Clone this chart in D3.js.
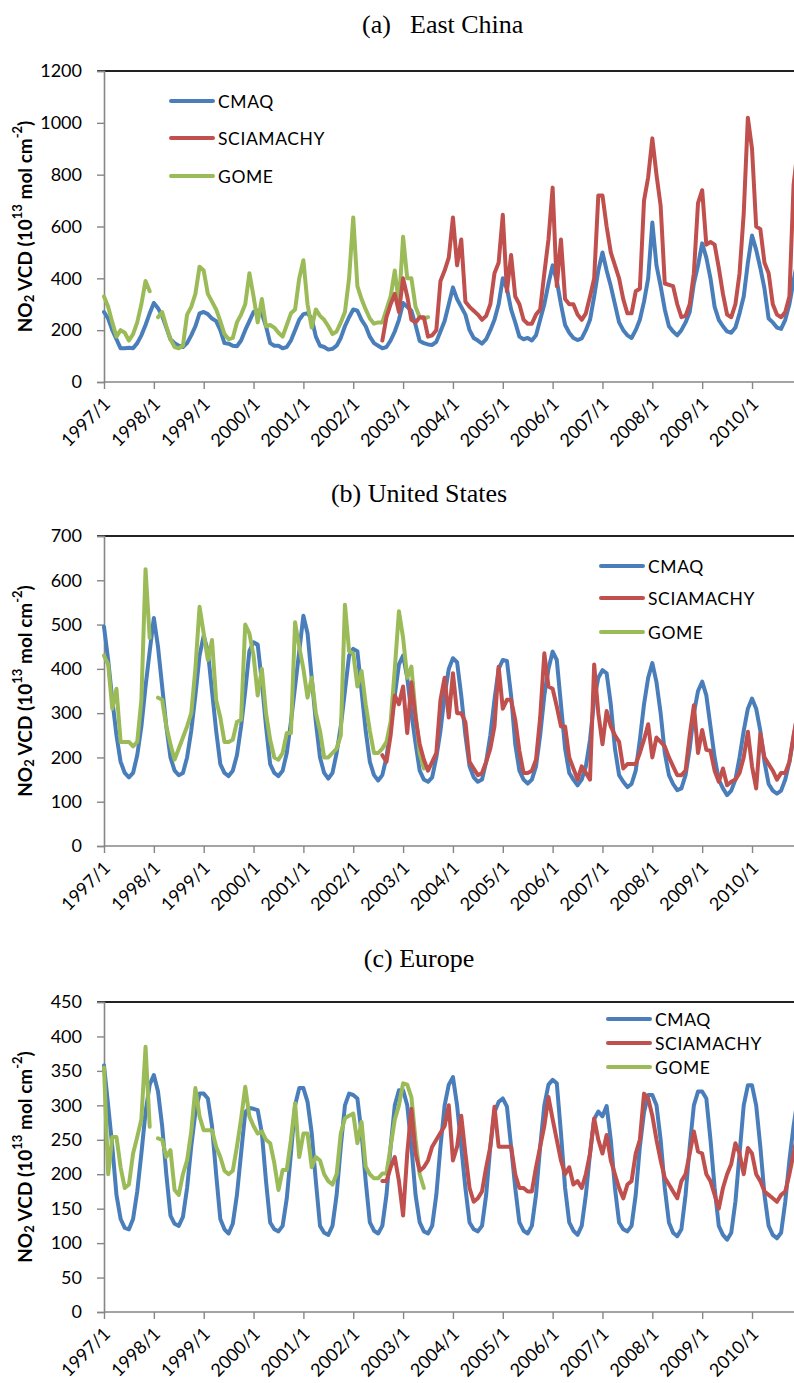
<!DOCTYPE html>
<html>
<head>
<meta charset="utf-8">
<script src="https://cdn.jsdelivr.net/npm/d3@7/dist/d3.min.js"></script>
<style>
  body { margin: 0; background: #fff; }
  svg { display: block; }
</style>
</head>
<body>
<svg id="chart" width="794" height="1383"></svg>
<script>
// monthly series, first value = 1997/1 unless noted
var years = d3.range(1997, 2011);
var sciaStart = 67;   // SCIAMACHY begins 2002/8
var seriesNames = ["CMAQ", "SCIAMACHY", "GOME"];

// (a) East China
var eastCmaq = [
  270, 245, 200, 165, 130, 130, 132, 130, 150, 180, 220, 265,
  305, 285, 255, 210, 165, 150, 140, 135, 150, 180, 215, 265,
  270, 262, 245, 235, 200, 150, 148, 140, 138, 160, 200, 235,
  270, 275, 265, 215, 150, 140, 140, 130, 135, 160, 200, 240,
  262, 265, 245, 175, 140, 135, 125, 128, 140, 170, 215, 250,
  280, 275, 240, 215, 175, 150, 140, 130, 135, 160, 195, 240,
  305, 290, 275, 220, 158, 150, 145, 143, 155, 195, 235, 300,
  365, 320, 290, 260, 200, 170, 160, 148, 165, 200, 240, 300,
  400, 360, 280, 230, 175, 165, 170, 160, 180, 240, 300, 380,
  450, 390, 300, 220, 190, 170, 162, 168, 200, 240, 330, 430,
  500, 430, 370, 300, 230, 200, 180, 170, 200, 240, 310, 400,
  615, 450, 370, 280, 215, 195, 180, 200, 230, 270, 380, 450,
  535, 480, 400, 290, 240, 215, 195, 190, 210, 265, 330, 460,
  565, 510, 440, 360, 245, 230, 210, 205, 240, 300, 390, 470
];
var eastScia = [
  160, 250, 300, 340, 270,
  400, 330, 240, 230, 250, 250, 175, 180, 200, 390, 430, 480,
  635, 450, 550, 310, 290, 275, 260, 240, 255, 300, 420, 460,
  645, 350, 490, 330, 300, 240, 225, 225, 260, 280, 420, 550,
  750, 370, 550, 320, 300, 300, 260, 240, 265, 330, 400, 720,
  720, 600, 500, 450, 400, 320, 265, 265, 350, 360, 700, 790,
  940, 800, 680, 380, 375, 370, 300, 250, 255, 300, 420, 690,
  740, 530, 540, 530, 440, 340, 260, 250, 300, 420, 650, 1020,
  900, 600, 590, 460, 420, 300, 260, 250, 270, 330, 760, 900
];
var eastGome = [
  330, 290, 230, 175, 200, 190, 160, 185, 230, 300, 390, 350,
  null, 250, 270, 215, 165, 135, 130, 140, 260, 290, 340, 445,
  430, 340, 310, 280, 235, 185, 165, 170, 230, 260, 300, 420,
  330, 230, 320, 215, 220, 210, 190, 175, 220, 265, 280, 400,
  470, 300, 210, 280, 255, 240, 215, 185, 195, 230, 270, 400,
  635, 370, 320, 280, 245, 225, 230, 230, 280, 330, 430, 300,
  560, 400, 400, 290, 250, 245, 250
];

// (b) United States
var usCmaq = [
  495, 420, 330, 250, 190, 165, 155, 165, 205, 270, 360, 440,
  515, 450, 360, 270, 200, 170, 160, 165, 200, 260, 340, 430,
  475, 440, 350, 260, 185, 165, 158, 170, 205, 270, 350, 440,
  460, 455, 370, 270, 185, 165, 158, 170, 210, 280, 360, 440,
  520, 480, 380, 280, 200, 165, 152, 165, 210, 270, 350, 430,
  445, 440, 350, 260, 190, 160, 148, 160, 200, 270, 340, 410,
  430, 380, 300, 232, 170, 150, 145, 155, 200, 260, 340, 400,
  424, 415, 340, 250, 180, 155, 145, 150, 190, 250, 330, 400,
  420, 418, 340, 230, 170, 150, 141, 150, 180, 250, 340, 400,
  439, 420, 320, 220, 165, 150, 137, 150, 180, 240, 330, 380,
  397, 390, 320, 220, 160, 145, 133, 140, 170, 240, 320, 380,
  413, 370, 300, 210, 160, 140, 126, 130, 160, 220, 300, 350,
  371, 340, 270, 200, 150, 130, 115, 125, 150, 200, 260, 310,
  333, 310, 260, 190, 140, 125, 118, 125, 150, 190, 245, 300
];
var usScia = [
  205, 190, 250, 340, 320,
  360, 255, 370, 290, 230, 195, 170, 190, 210, 330, 380, 290,
  390, 300, 300, 280, 190, 175, 160, 165, 190, 220, 270, 405,
  310, 330, 330, 285, 215, 165, 165, 170, 195, 290, 435, 360,
  355, 315, 270, 270, 200, 175, 150, 180, 165, 150, 410, 300,
  230, 305, 270, 250, 235, 175, 185, 185, 185, 210, 240, 275,
  200, 245, 235, 225, 200, 180, 160, 160, 170, 250, 318, 210,
  262, 217, 215, 170, 145, 175, 137, 145, 150, 165, 200, 258,
  180, 130, 254, 200, 185, 170, 150, 165, 165, 190, 250, 300
];
var usGome = [
  430, 410, 310, 355, 235, 235, 235, 225, 235, 330, 625, 470,
  null, 335, 330, 270, 230, 195, 220, 245, 270, 300, 400, 540,
  480, 420, 465, 330, 290, 235, 235, 240, 280, 285, 500, 480,
  430, 340, 400, 300, 240, 200, 195, 210, 255, 255, 505, 450,
  400, 335, 380, 300, 260, 200, 200, 210, 220, 250, 545, 440,
  435, 360, 395, 320, 260, 210, 210, 220, 235, 280, 400, 530,
  470, 380, 405, 300, 210, 175
];

// (c) Europe
var euCmaq = [
  358, 300, 240, 170, 135, 122, 120, 135, 175, 230, 290, 330,
  344, 320, 270, 200, 140, 128, 125, 138, 180, 240, 290, 317,
  317, 310, 270, 200, 135, 120, 114, 128, 170, 230, 290, 296,
  295, 293, 260, 190, 130, 120, 117, 125, 165, 230, 300, 325,
  325, 305, 260, 190, 125, 115, 112, 125, 170, 240, 300, 317,
  315, 310, 260, 190, 130, 118, 114, 125, 170, 240, 300, 322,
  322, 300, 240, 170, 130, 117, 114, 125, 170, 240, 300, 330,
  341, 300, 240, 180, 130, 120, 117, 125, 170, 240, 290, 305,
  310, 298, 240, 180, 130, 118, 114, 125, 170, 240, 300, 330,
  337, 332, 260, 180, 130, 118, 112, 125, 170, 230, 280, 291,
  284, 299, 250, 180, 130, 120, 117, 125, 170, 240, 290, 315,
  315, 300, 250, 180, 130, 115, 110, 120, 170, 240, 300, 320,
  320, 310, 250, 180, 125, 112, 105, 115, 160, 230, 300, 329,
  329, 300, 240, 170, 125, 112, 107, 115, 160, 220, 270, 310
];
var euScia = [
  190, 190, 210, 225, 190,
  140, 230, 295, 230, 205, 210, 220, 240, 250, 260, 270, 300,
  220, 240, 285, 230, 180, 160, 165, 175, 210, 240, 298, 240,
  240, 240, 240, 200, 180, 180, 175, 175, 210, 240, 270, 312,
  280, 250, 220, 200, 210, 185, 190, 180, 200, 230, 281, 250,
  230, 257, 220, 200, 180, 165, 185, 190, 230, 250, 317, 310,
  285, 250, 220, 195, 185, 175, 165, 190, 200, 230, 262, 233,
  230, 200, 190, 170, 150, 180, 200, 215, 245, 230, 200, 238,
  230, 200, 190, 175, 170, 165, 160, 170, 175, 200, 230, 260
];
var euGome = [
  355, 200, 254, 254, 210, 180, 185, 230, 254, 280, 385, 269,
  null, 252, 250, 225, 235, 177, 170, 200, 220, 262, 325, 284,
  264, 264, 264, 240, 225, 205, 200, 205, 240, 280, 327, 284,
  270, 259, 262, 250, 245, 216, 177, 206, 206, 250, 303, 225,
  259, 259, 210, 225, 220, 200, 190, 185, 200, 259, 281, 285,
  288, 245, 276, 211, 200, 194, 194, 201, 201, 240, 279, 300,
  332, 330, 312, 250, 200, 180
];

var colors = { CMAQ: "#4a7ebb", SCIAMACHY: "#c0504d", GOME: "#9bbb59" };

var panels = [
  { tag: "(a)", name: "East China", titleY: 33, top: 71, bottom: 382, max: 1200, step: 200,
    data: [eastCmaq, eastScia, eastGome], legendX: 171, legendY: [101, 138, 176] },
  { tag: "(b)", name: "United States", titleY: 502, top: 536, bottom: 846, max: 700, step: 100,
    data: [usCmaq, usScia, usGome], legendX: 601, legendY: [566, 598, 632] },
  { tag: "(c)", name: "Europe", titleY: 967, top: 1002, bottom: 1312, max: 450, step: 50,
    data: [euCmaq, euScia, euGome], legendX: 608, legendY: [1019, 1043, 1067] }
];

var svg = d3.select("#chart");
svg.append("rect").attr("width", 794).attr("height", 1383).attr("fill", "#fff");

var left = 104, monthW = 4.154;
var x = d3.scaleLinear().domain([0, 168]).range([left, left + monthW * 168]);
var axisGrey = "#868686";
var sans = "Lato, 'Open Sans', sans-serif";
var serif = "26px 'Liberation Serif', 'Times New Roman', serif";

panels.forEach(function(p, pi) {
  var g = svg.append("g");
  var y = d3.scaleLinear().domain([0, p.max]).range([p.bottom, p.top]);

  // title
  if (pi == 0) {
    g.append("text").attr("x", 362).attr("y", p.titleY).text(p.tag).style("font", serif);
    g.append("text").attr("x", 410).attr("y", p.titleY).text(p.name).style("font", serif);
  } else {
    g.append("text").attr("x", 419).attr("y", p.titleY).attr("text-anchor", "middle")
      .text(p.tag + " " + p.name).style("font", serif);
  }

  // top border
  g.append("line").attr("x1", left - 7).attr("x2", 794).attr("y1", p.top).attr("y2", p.top)
    .attr("stroke", "#222").attr("stroke-width", 1.8);

  // y axis
  var yAxis = d3.axisLeft(y).tickValues(d3.range(0, p.max + 1, p.step))
    .tickFormat(d3.format("d")).tickSize(7).tickPadding(15);
  var ya = g.append("g").attr("transform", "translate(" + left + ",0)").call(yAxis);
  ya.select(".domain").attr("stroke", axisGrey).attr("stroke-width", 1.6);
  ya.selectAll(".tick line").attr("stroke", axisGrey).attr("stroke-width", 1.4);
  ya.selectAll(".tick text").style("font-family", sans).style("font-size", "18px").attr("fill", "#000");

  // x axis
  var xAxis = d3.axisBottom(x).tickValues(years.map(function(yr) { return (yr - 1997) * 12; }))
    .tickSize(7).tickSizeOuter(0)
    .tickFormat(function(m) { return (1997 + m / 12) + "/1"; });
  var xa = g.append("g").attr("transform", "translate(0," + p.bottom + ")").call(xAxis);
  xa.select(".domain").attr("stroke", axisGrey).attr("stroke-width", 1.6).attr("d", "M" + left + ",0H794");
  xa.selectAll(".tick line").attr("stroke", axisGrey).attr("stroke-width", 1.4);
  xa.selectAll(".tick text")
    .style("font-family", sans).style("font-size", "18px").attr("fill", "#000")
    .attr("text-anchor", "end").attr("dy", null).attr("y", 0)
    .attr("transform", "translate(7,23) rotate(-45)");

  // axis title
  var lab = g.append("text")
    .attr("transform", "translate(24," + ((p.top + p.bottom) / 2) + ") rotate(-90)")
    .attr("text-anchor", "middle").attr("dominant-baseline", "central")
    .style("font-family", sans).style("font-size", "19px").style("font-weight", "bold");
  lab.append("tspan").text("NO");
  lab.append("tspan").text("2").style("font-size", "13px").attr("dy", 5);
  lab.append("tspan").text(" VCD (10").attr("dy", -5);
  lab.append("tspan").text("13").style("font-size", "13px").attr("dy", -7);
  lab.append("tspan").text(" mol cm").attr("dy", 7);
  lab.append("tspan").text("-2").style("font-size", "13px").attr("dy", -7);
  lab.append("tspan").text(")").attr("dy", 7);

  // lines
  var line = d3.line()
    .defined(function(d) { return d.v != null; })
    .x(function(d) { return x(d.m); })
    .y(function(d) { return y(d.v); });

  [0, 2, 1].forEach(function(si) {
    var start = si == 1 ? sciaStart : 0;
    var pts = p.data[si].map(function(v, i) { return { m: start + i, v: v }; });
    g.append("path").datum(pts).attr("d", line)
      .attr("fill", "none").attr("stroke", colors[seriesNames[si]])
      .attr("stroke-width", 4).attr("stroke-linejoin", "round").attr("stroke-linecap", "round");
  });

  // legend
  seriesNames.forEach(function(name, i) {
    var ly = p.legendY[i];
    g.append("line").attr("x1", p.legendX).attr("x2", p.legendX + 42).attr("y1", ly).attr("y2", ly)
      .attr("stroke", colors[name]).attr("stroke-width", 4).attr("stroke-linecap", "round");
    g.append("text").attr("x", p.legendX + 47).attr("y", ly).attr("dominant-baseline", "central")
      .style("font-family", sans).style("font-size", "17.5px").style("letter-spacing", "0.6px")
      .text(name);
  });
});
</script>
</body>
</html>
